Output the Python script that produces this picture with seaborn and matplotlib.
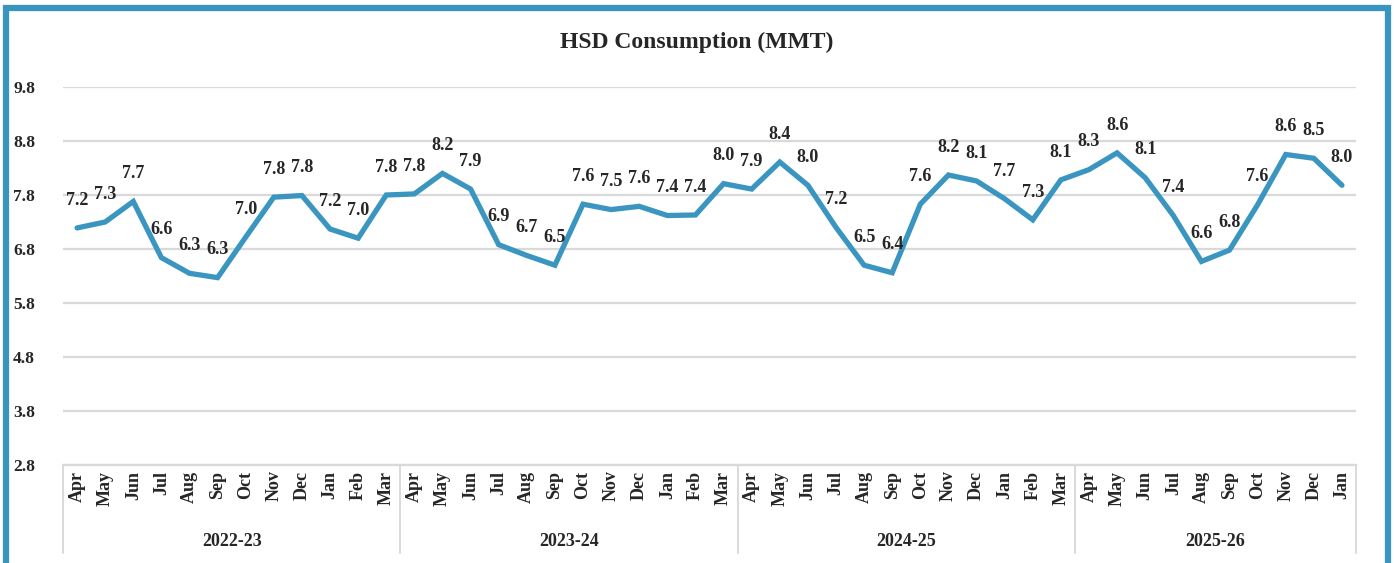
import numpy as np
import pandas as pd
import matplotlib
matplotlib.use("Agg")
import matplotlib.pyplot as plt
import matplotlib.transforms as mtransforms
from matplotlib.patches import Rectangle
import seaborn as sns

# data
years = ["2022-23", "2023-24", "2024-25", "2025-26"]
months = ["Apr", "May", "Jun", "Jul", "Aug", "Sep", "Oct", "Nov", "Dec", "Jan", "Feb", "Mar"]
fy22 = [7.19, 7.30, 7.68, 6.64, 6.35, 6.27, 7.02, 7.76, 7.79, 7.17, 7.00, 7.80]
fy23 = [7.82, 8.20, 7.91, 6.88, 6.68, 6.50, 7.63, 7.53, 7.59, 7.42, 7.43, 8.01]
fy24 = [7.91, 8.41, 7.98, 7.20, 6.50, 6.36, 7.63, 8.17, 8.06, 7.73, 7.34, 8.08]
fy25 = [8.27, 8.58, 8.12, 7.42, 6.57, 6.78, 7.62, 8.55, 8.48, 7.98]
yticks = [2.8, 3.8, 4.8, 5.8, 6.8, 7.8, 8.8, 9.8]

series = [fy22, fy23, fy24, fy25]
rows = []
for yr, vals in zip(years, series):
    for m, v in zip(months, vals):
        rows.append({"year": yr, "month": m, "value": v})
df = pd.DataFrame(rows)
df["idx"] = np.arange(len(df))

sns.set_style("white")
plt.rcParams["font.family"] = ["Liberation Serif", "DejaVu Serif"]
plt.rcParams["font.weight"] = "bold"

line_col = "#3A96C0"
grid_col = "#D9D9D9"

fig = plt.figure(figsize=(13.94, 5.63), dpi=100)
ax = fig.add_axes([63 / 1394, 1 - 465 / 563, (1356 - 63) / 1394, (465 - 87) / 563])

sns.lineplot(data=df, x="idx", y="value", ax=ax, color=line_col, linewidth=3.8,
             solid_joinstyle="miter", zorder=3)

ax.set_xlim(-0.5, len(df) - 0.5)
ax.set_ylim(2.8, 9.8)
ax.set_yticks(yticks)
ax.set_yticklabels([f"{t:.1f}" for t in yticks], fontsize=12.5, fontweight="bold")
ax.tick_params(axis="y", length=0, pad=20)
ax.tick_params(axis="x", length=0, pad=4)
ax.grid(axis="y", color=grid_col, linewidth=1.6)
ax.set_axisbelow(True)
for s in ["top", "right", "left"]:
    ax.spines[s].set_visible(False)
ax.spines["bottom"].set_color(grid_col)
ax.spines["bottom"].set_linewidth(1.6)
ax.set_xlabel("")
ax.set_ylabel("")

ax.set_xticks(df["idx"])
ax.set_xticklabels(df["month"], rotation=90, fontsize=13, fontweight="bold")

# data labels
for i, v in zip(df["idx"], df["value"]):
    ax.annotate(f"{v:.1f}", (i, v), xytext=(0, 20), textcoords="offset points",
                ha="center", va="center", fontsize=13, fontweight="bold")

# year group separators and labels
trans = mtransforms.blended_transform_factory(ax.transData, ax.transAxes)
bounds = [-0.5]
for vals in series:
    bounds.append(bounds[-1] + len(vals))
for b in bounds:
    ax.plot([b, b], [0, -88 / 378], transform=trans, color=grid_col, lw=1.4, clip_on=False)
for k, yr in enumerate(years):
    ax.text((bounds[k] + bounds[k + 1]) / 2, -76 / 378, yr, transform=trans,
            ha="center", va="center", fontsize=13, fontweight="bold")

fig.text(0.5, 1 - 42 / 563, "HSD Consumption (MMT)", ha="center", va="center",
         fontsize=17, fontweight="bold")

# outer frame
fig.patches.append(Rectangle((6 / 1394, -0.05), (1388 - 6) / 1394, 1.05 - 8 / 563,
                             transform=fig.transFigure, fill=False, edgecolor="#3795BF",
                             linewidth=4.5, zorder=10))

fig.savefig("out.png", dpi=100, facecolor="white")
